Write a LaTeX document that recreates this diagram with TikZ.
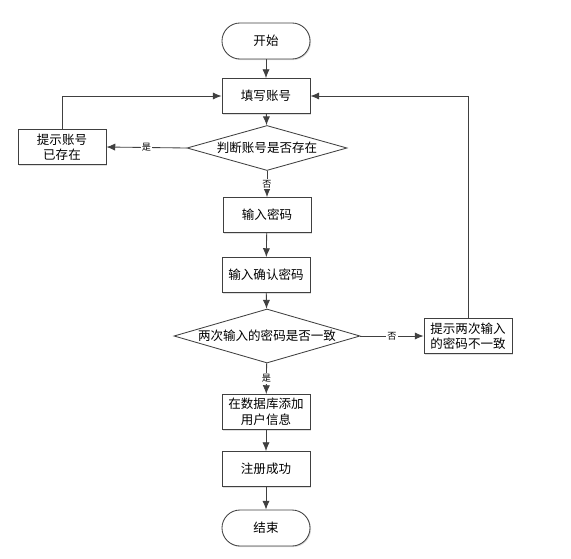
\documentclass[tikz,border=0pt]{standalone}
\usepackage{fontspec}
\setmainfont{Noto Sans CJK SC}
\usetikzlibrary{shapes.geometric,arrows.meta,shadows}
\tikzset{>={Latex[length=2.2mm,width=1.8mm]}}
\tikzset{
  flowbox/.style={rectangle, draw=black!75, fill=white, line width=0.6pt,
    minimum width=2.2cm, minimum height=0.875cm, inner sep=1pt, align=center,
    font=\fontsize{8.9}{11}\selectfont,
    drop shadow={opacity=0.25, shadow xshift=0.8pt, shadow yshift=-0.8pt}},
  terminal/.style={flowbox, minimum height=0.9cm, rounded corners=0.45cm},
  decision/.style={diamond, draw=black!75, fill=white, line width=0.6pt, inner sep=0pt},
  decisiontext/.style={font=\fontsize{8.9}{11}\selectfont, inner sep=0pt},
  yesno/.style={fill=white, inner sep=1pt, font=\fontsize{6.5}{7}\selectfont},
  flowline/.style={draw=black!75, line width=0.6pt}
}
\begin{document}
\begin{tikzpicture}[x=0.025cm, y=-0.025cm]

\useasboundingbox (0,0) rectangle (571,558);

% Main column
\node[terminal] (start)   at (266,41)  {开始};
\node[flowbox]  (account) at (266,96)  {填写账号};
\node[decision, minimum width=4cm, minimum height=1.125cm] (exists) at (267,148) {};
\node[decisiontext] (existstext) at (exists) {判断账号是否存在};
\node[flowbox]  (pwd)     at (267,215) {输入密码};
\node[flowbox]  (confirm) at (266,275) {输入确认密码};
\node[decision, minimum width=4.65cm, minimum height=1.35cm] (same) at (267,336) {};
\node[decisiontext] (sametext) at (same) {两次输入的密码是否一致};
\node[flowbox]  (save)    at (266,412) {在数据库添加\\用户信息};
\node[flowbox]  (done)    at (266,469) {注册成功};
\node[terminal] (stop)    at (266,528) {结束};

% Side boxes
\node[flowbox] (taken)    at (62,147)  {提示账号\\已存在};
\node[flowbox] (mismatch) at (468,336) {提示两次输入\\的密码不一致};

% Arrows down
\draw[flowline,->] (start) -- (account);
\draw[flowline,->] (account) -- (exists);
\draw[flowline,->] (exists) -- node[yesno]{否} (pwd);
\draw[flowline,->] (pwd) -- (confirm);
\draw[flowline,->] (confirm) -- (same);
\draw[flowline,->] (same) -- node[yesno]{是} (save);
\draw[flowline,->] (save) -- (done);
\draw[flowline,->] (done) -- (stop);

% Branches
\draw[flowline,->] (exists.west) -- node[yesno]{是} (taken.east);
\draw[flowline,->] (taken.north) |- (account.west);
\draw[flowline,->] (same.east) -- node[yesno]{否} (mismatch.west);
\draw[flowline,->] (mismatch.north) |- (account.east);

\end{tikzpicture}
\end{document}
